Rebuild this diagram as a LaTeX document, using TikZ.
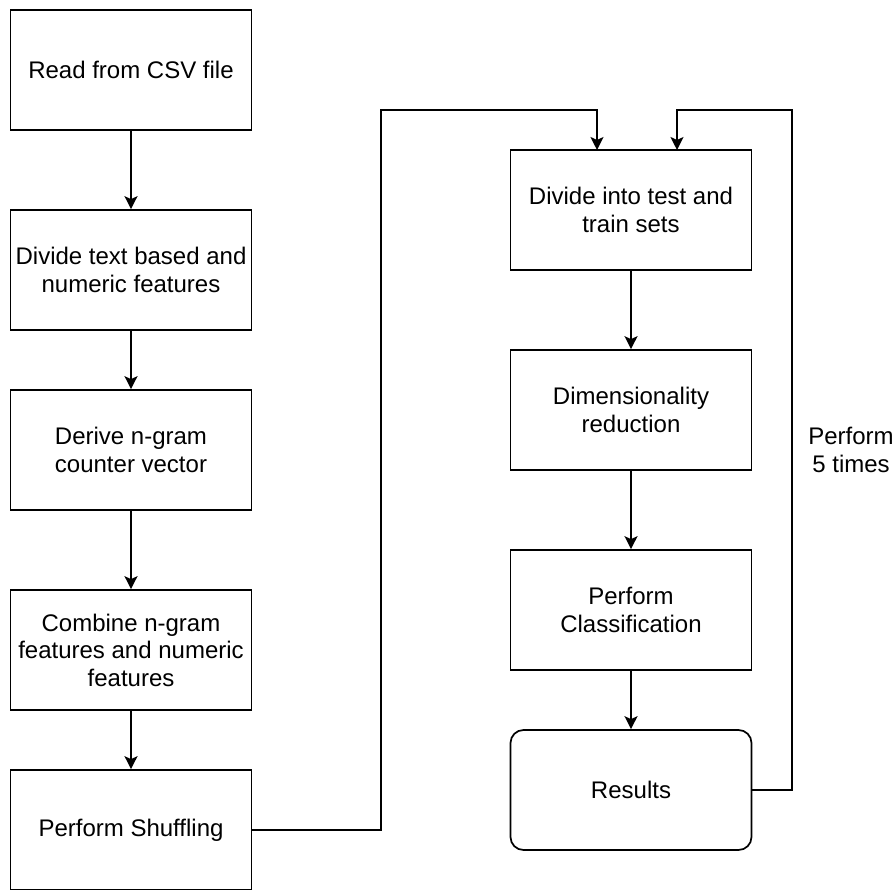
\documentclass[tikz,border=0pt]{standalone}
\usepackage{fontspec}
\setmainfont{Liberation Sans}
\usetikzlibrary{arrows.meta}
\begin{document}
\begin{tikzpicture}[x=1pt,y=-1pt,
  box/.style={draw=black,line width=1.7pt,fill=white,inner sep=0pt,
    minimum width=241pt,minimum height=120pt,align=center,
    font=\fontsize{24}{27.5}\selectfont},
  rbox/.style={box,rounded corners=13pt},
  arr/.style={draw=black,line width=1.7pt,-{Stealth[length=13pt,width=13pt,inset=3pt]}},
  lbl/.style={align=center,inner sep=0pt,font=\fontsize{24}{27.5}\selectfont}]
\useasboundingbox (0,0) rectangle (893,890);
\node[box] (b1) at (131,70) {Read from CSV file};
\node[box] (b2) at (131,270) {Divide text based and\\numeric features};
\node[box] (b3) at (131,450) {Derive n-gram\\counter vector};
\node[box] (b4) at (131,650) {Combine n-gram\\features and numeric\\features};
\node[box] (b5) at (131,830) {Perform Shuffling};
\node[box] (d1) at (631,210) {Divide into test and\\train sets};
\node[box] (d2) at (631,410) {Dimensionality\\reduction};
\node[box] (d3) at (631,610) {Perform\\Classification};
\node[rbox] (r) at (631,790) {Results};
\node[lbl] (lab) at (851,450) {Perform\\5 times};
\coordinate (c1) at (381,110);
\coordinate (inA) at (597,150);
\coordinate (c3) at (792,110);
\coordinate (inB) at (677,150);
\draw[arr] (b1) -- (b2);
\draw[arr] (b2) -- (b3);
\draw[arr] (b3) -- (b4);
\draw[arr] (b4) -- (b5);
\draw[arr] (d1) -- (d2);
\draw[arr] (d2) -- (d3);
\draw[arr] (d3) -- (r);
\draw[arr] (b5.east) -| (c1) -| (inA);
\draw[arr] (r.east) -| (c3) -| (inB);
\end{tikzpicture}
\end{document}
